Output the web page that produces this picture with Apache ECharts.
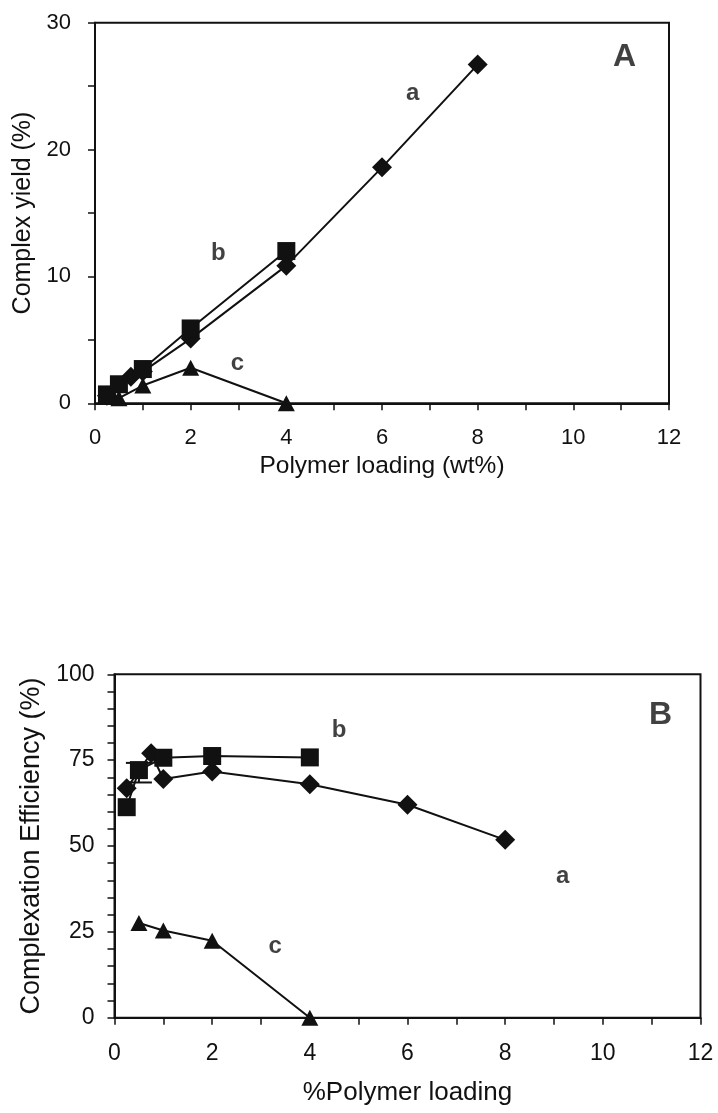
<!DOCTYPE html>
<html><head><meta charset="utf-8">
<script src="https://cdn.jsdelivr.net/npm/echarts@6/dist/echarts.min.js"></script>
<style>html,body{margin:0;padding:0;background:#fff}#c{width:718px;height:1113px}</style>
</head><body><div id="c"></div>
<script>
// ---- tick labels ----
const xTicks = [0, 2, 4, 6, 8, 10, 12];
const yTicksA = [0, 10, 20, 30];
const yTicksB = [0, 25, 50, 75, 100];

// ---- Panel A: Complex yield (%) vs polymer loading (wt%) ----
const aX_A = [0.25, 0.75, 1, 2, 4, 6, 8];
const aY_A = [0.6, 2.1, 2.5, 5.1, 10.85, 18.6, 26.7];
const bX_A = [0.25, 0.5, 1, 2, 4];
const bY_A = [0.7, 1.5, 2.7, 5.9, 12.0];
const cX_A = [0.5, 1, 2, 4];
const cY_A = [0.4, 1.4, 2.8, 0];

// ---- Panel B: Complexation efficiency (%) vs %polymer loading ----
const aX_B = [0.25, 0.75, 1, 2, 4, 6, 8];
const aY_B = [66.8, 77.0, 69.5, 71.7, 68.0, 62.0, 51.8];
const bX_B = [0.25, 0.5, 1, 2, 4];
const bY_B = [61.3, 72.1, 75.7, 76.2, 75.8];
const cX_B = [0.5, 1, 2, 4];
const cY_B = [27.6, 25.4, 22.4, 0];

// error bar (series b, panel B)
const errX_B = [0.5];
const errLow_B = [68.5];
const errHigh_B = [74.2];

// annotation letters and their data positions
const annTextA = ['A', 'a', 'b', 'c'];
const annXA = [11.07, 6.64, 2.58, 2.98];
const annYA = [27.3, 24.4, 11.8, 3.15];
const annTextB = ['B', 'b', 'a', 'c'];
const annXB = [11.18, 4.6, 9.18, 3.29];
const annYB = [88.2, 83.6, 41.3, 20.7];

const INK = '#111111';
const FONT = "'Liberation Sans', Arial, sans-serif";
const NARROW = "'Liberation Sans Narrow', 'Liberation Sans', Arial, sans-serif";

const zip = (xs, ys) => xs.map((x, i) => [x, ys[i]]);

function xAxisCfg(gi, name, gap, nameSize, labSize, labMargin) {
  return {
    type: 'value', gridIndex: gi,
    min: xTicks[0], max: xTicks[xTicks.length - 1], interval: xTicks[1] - xTicks[0],
    name: name, nameLocation: 'middle', nameGap: gap,
    nameTextStyle: { fontFamily: FONT, fontSize: nameSize, color: INK },
    axisLine: { show: true, onZero: false, lineStyle: { color: INK, width: 2 } },
    axisTick: { show: true, inside: false, length: 7, lineStyle: { color: INK, width: 1.5 } },
    minorTick: { show: true, splitNumber: 2, length: 7, lineStyle: { color: INK, width: 1.5 } },
    splitLine: { show: false }, minorSplitLine: { show: false },
    axisLabel: { fontFamily: FONT, fontSize: labSize, color: INK, margin: labMargin }
  };
}
function yAxisCfg(gi, ticks, minorSplit, name, gap, nameSize, labSize, labMargin) {
  return {
    type: 'value', gridIndex: gi,
    min: ticks[0], max: ticks[ticks.length - 1], interval: ticks[1] - ticks[0],
    name: name, nameLocation: 'middle', nameGap: gap,
    nameTextStyle: { fontFamily: FONT, fontSize: nameSize, color: INK },
    axisLine: { show: true, lineStyle: { color: INK, width: 2 } },
    axisTick: { show: true, inside: false, length: 7, lineStyle: { color: INK, width: 1.5 } },
    minorTick: { show: true, splitNumber: minorSplit, length: 7, lineStyle: { color: INK, width: 1.5 } },
    splitLine: { show: false }, minorSplitLine: { show: false },
    axisLabel: { fontFamily: FONT, fontSize: labSize, color: INK, margin: labMargin }
  };
}

function lineSeries(gi, data, symbol, size) {
  return {
    type: 'line', xAxisIndex: gi, yAxisIndex: gi, data: data,
    symbol: symbol, symbolSize: size, showSymbol: true, clip: false,
    lineStyle: { color: INK, width: 2 }, itemStyle: { color: INK, borderWidth: 0 },
    animation: false, z: 3
  };
}

function annSeries(gi, texts, xs, ys) {
  return {
    type: 'scatter', xAxisIndex: gi, yAxisIndex: gi, silent: true, animation: false,
    symbolSize: 1, itemStyle: { color: 'rgba(0,0,0,0)' }, z: 5,
    data: texts.map((t, i) => ({
      name: t, value: [xs[i], ys[i]],
      label: (t === t.toUpperCase())
        ? { fontSize: 32, fontFamily: FONT, fontWeight: 'bold' }
        : { fontSize: 24, fontFamily: NARROW, fontWeight: 'bold' }
    })),
    label: { show: true, formatter: '{b}', position: 'inside', align: 'center', verticalAlign: 'middle', color: INK }
  };
}

const chart = echarts.init(document.getElementById('c'), null, { renderer: 'canvas' });
chart.setOption({
  backgroundColor: '#ffffff',
  animation: false,
  grid: [
    { left: 95, right: 49, top: 22.7, height: 380.6, show: true, borderColor: INK, borderWidth: 2, backgroundColor: 'transparent' },
    { left: 114.5, right: 17.5, top: 674.3, height: 343.4, show: true, borderColor: INK, borderWidth: 2, backgroundColor: 'transparent' }
  ],
  xAxis: [
    xAxisCfg(0, 'Polymer loading (wt%)', 50, 24.5, 22, 24),
    xAxisCfg(1, '%Polymer loading', 62, 26, 23, 24)
  ],
  yAxis: [
    yAxisCfg(0, yTicksA, 2, 'Complex yield (%)', 58, 25, 22, 24),
    yAxisCfg(1, yTicksB, 5, 'Complexation Efficiency (%)', 69, 27, 23, 20)
  ],
  series: [
    lineSeries(0, zip(aX_A, aY_A), 'diamond', 20),
    lineSeries(0, zip(bX_A, bY_A), 'rect', 18),
    lineSeries(0, zip(cX_A, cY_A), 'triangle', [17, 16]),
    lineSeries(1, zip(aX_B, aY_B), 'diamond', 20),
    lineSeries(1, zip(bX_B, bY_B), 'rect', 18),
    lineSeries(1, zip(cX_B, cY_B), 'triangle', [17, 16]),
    {
      type: 'custom', xAxisIndex: 1, yAxisIndex: 1, animation: false, silent: true, z: 2,
      data: errX_B.map((x, i) => [x, errLow_B[i], errHigh_B[i]]),
      encode: { x: 0, y: [1, 2] },
      renderItem: function (params, api) {
        const x = api.value(0);
        const lo = api.coord([x, api.value(1)]);
        const hi = api.coord([x, api.value(2)]);
        const hw = 13;
        const st = { stroke: INK, lineWidth: 2 };
        return {
          type: 'group', children: [
            { type: 'line', shape: { x1: lo[0], y1: lo[1], x2: hi[0], y2: hi[1] }, style: st },
            { type: 'line', shape: { x1: hi[0] - hw, y1: hi[1], x2: hi[0] + hw, y2: hi[1] }, style: st },
            { type: 'line', shape: { x1: lo[0] - hw, y1: lo[1], x2: lo[0] + hw, y2: lo[1] }, style: st }
          ]
        };
      }
    },
    annSeries(0, annTextA, annXA, annYA),
    annSeries(1, annTextB, annXB, annYB)
  ]
});
</script>
</body></html>
